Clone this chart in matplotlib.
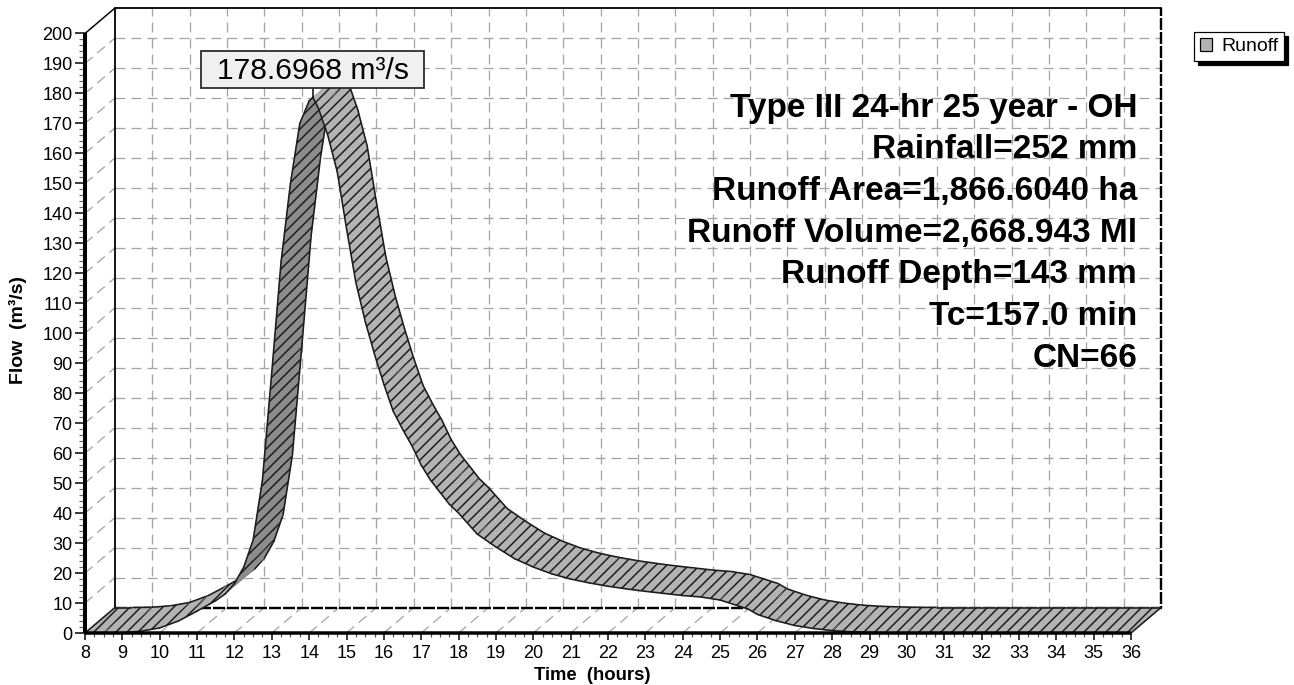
import numpy as np
import matplotlib
matplotlib.use("Agg")
import matplotlib.pyplot as plt
from matplotlib.patches import Polygon, Rectangle, Patch
from matplotlib.lines import Line2D
from matplotlib.ticker import FixedLocator
from matplotlib.transforms import IdentityTransform

# ---------------- data ----------------
time_hr = [8.0, 8.5, 9.0, 9.5, 10.0, 10.5, 11.0, 11.5, 11.75, 12.0, 12.25, 12.5,
           12.75, 13.0, 13.25, 13.5, 13.75, 14.0, 14.1, 14.25, 14.5, 14.75, 15.0,
           15.25, 15.5, 15.75, 16.0, 16.25, 16.5, 16.75, 17.0, 17.25, 17.5, 17.75,
           18.0, 18.5, 19.0, 19.5, 20.0, 20.5, 21.0, 21.5, 22.0, 22.5, 23.0, 23.5,
           24.0, 24.5, 25.0, 25.5, 25.75, 26.0, 26.5, 27.0, 27.5, 28.0, 28.5, 29.0,
           29.5, 30.0, 36.0]
flow_cms = [0.0, 0.0, 0.1, 0.6, 1.7, 4.0, 7.3, 10.8, 13.0, 16.5, 22.0, 31.0,
            51.0, 87.0, 124.0, 150.0, 170.0, 177.5, 178.6968, 175.0, 166.0, 154.0, 135.0,
            117.0, 104.0, 93.0, 83.0, 74.0, 68.0, 62.5, 56.0, 51.0, 47.0, 43.0,
            40.0, 33.0, 28.7, 24.8, 22.0, 19.7, 18.0, 16.7, 15.6, 14.7, 13.9, 13.2,
            12.5, 12.0, 11.0, 9.0, 8.0, 6.2, 4.1, 2.5, 1.5, 0.8, 0.4, 0.2,
            0.05, 0.0, 0.0]
x_ticks = list(range(8, 37))
y_ticks = list(range(0, 201, 10))
info_lines = ["Type III 24-hr 25 year - OH", "Rainfall=252 mm",
              "Runoff Area=1,866.6040 ha", "Runoff Volume=2,668.943 Ml",
              "Runoff Depth=143 mm", "Tc=157.0 min", "CN=66"]
title_text = "Hydrograph"
series_name = "Runoff"
x_label = "Time  (hours)"
y_label = "Flow  (m³/s)"

# ---------------- style ----------------
W, H, DPI = 1294, 685, 132
def pt(px):
    return px * 72.0 / DPI

plt.rcParams["font.family"] = ["Liberation Sans", "DejaVu Sans"]
plt.rcParams["hatch.linewidth"] = pt(1.5)
plt.rcParams["lines.scale_dashes"] = False

LIGHT = "#b3b3b3"
DARK = "#8c8c8c"
EDGE = "#1c1c1c"
GRID = "#a6a6a6"
DX, DY = 0.803, 8.5          # depth offset of the 3-D back wall (hours, flow units)
X0, X1 = x_ticks[0], x_ticks[-1]
Y0, Y1 = y_ticks[0], y_ticks[-1]

fig = plt.figure(figsize=(W / DPI, H / DPI), dpi=DPI)
ax = fig.add_axes([85 / W, (H - 633) / H, (1161 - 85) / W, (633 - 8) / H])
ax.set_xlim(X0, X1 + DX)
ax.set_ylim(Y0, Y1 + DY)
ax.set_facecolor("none")
for s in ax.spines.values():
    s.set_visible(False)

# ---------------- grid (back wall, left wall, floor) ----------------
gkw = dict(color=GRID, lw=pt(1.3), dashes=(pt(10), pt(6)), zorder=1)
for v in y_ticks[1:-1]:
    ax.plot([X0 + DX, X1 + DX], [v + DY, v + DY], **gkw)
    ax.plot([X0, X0 + DX], [v, v + DY], **gkw)
for t in x_ticks[1:-1]:
    ax.plot([t + DX, t + DX], [Y0 + DY, Y1 + DY], **gkw)
    ax.plot([t, t + DX], [Y0, Y0 + DY], **gkw)

# back wall borders
ax.plot([X0 + DX, X0 + DX, X1 + DX], [Y0 + DY, Y1 + DY, Y1 + DY], color="k",
        lw=pt(1.8), zorder=1.5, clip_on=False)
ax.plot([X0 + DX, X1 + DX, X1 + DX], [Y0 + DY, Y0 + DY, Y1 + DY], color="k",
        lw=pt(2.4), dashes=(pt(12), pt(2)), zorder=1.5, clip_on=False)
ax.plot([X0, X0 + DX], [Y1, Y1 + DY], color="k", lw=pt(1.5), zorder=1.5, clip_on=False)

# ---------------- 3-D ribbon ----------------
fig.canvas.draw()
tD = ax.transData
d0 = tD.transform((X0, Y0))
d1 = tD.transform((X0 + DX, Y0 + DY))
dpx, dpy = d1[0] - d0[0], d1[1] - d0[1]

z = 2.0
for i in range(len(time_hr) - 1):
    t0, v0 = time_hr[i], flow_cms[i]
    t1, v1 = time_hr[i + 1], flow_cms[i + 1]
    a = tD.transform((t0, v0))
    b = tD.transform((t1, v1))
    sx, sy = b[0] - a[0], b[1] - a[1]
    top_visible = (dpy * sx - dpx * sy) > 0
    col = LIGHT if top_visible else DARK
    quad = [(t0, v0), (t1, v1), (t1 + DX, v1 + DY), (t0 + DX, v0 + DY)]
    ax.add_patch(Polygon(quad, closed=True, facecolor=col, edgecolor=col,
                         lw=pt(0.6), zorder=z))
    ax.add_patch(Polygon(quad, closed=True, facecolor="none", edgecolor=EDGE,
                         lw=0, hatch="////", zorder=z + 0.001))
    ax.plot([t0, t1], [v0, v1], color=EDGE, lw=pt(1.6), zorder=z + 0.002,
            solid_capstyle="round")
    ax.plot([t0 + DX, t1 + DX], [v0 + DY, v1 + DY], color=EDGE, lw=pt(1.6),
            zorder=z + 0.002, solid_capstyle="round")
    z += 0.01
# end caps
for k in (0, -1):
    ax.plot([time_hr[k], time_hr[k] + DX], [flow_cms[k], flow_cms[k] + DY],
            color=EDGE, lw=pt(1.6), zorder=z, clip_on=False)

# ---------------- front axes ----------------
ax.plot([X0, X0], [Y0, Y1], color="k", lw=pt(4), zorder=50, clip_on=False,
        solid_capstyle="butt")
ax.plot([X0, X1], [Y0, Y0], color="k", lw=pt(3.5), zorder=50, clip_on=False,
        solid_capstyle="butt")

ax.xaxis.set_major_locator(FixedLocator(x_ticks))
ax.xaxis.set_minor_locator(FixedLocator(np.arange(X0, X1 + 0.001, 0.25)))
ax.set_xticklabels([str(t) for t in x_ticks])
ax.yaxis.set_major_locator(FixedLocator(y_ticks))
ax.yaxis.set_minor_locator(FixedLocator(np.arange(Y0, Y1 + 0.001, 2)))
ax.set_yticklabels([str(v) for v in y_ticks])
ax.tick_params(axis="x", which="major", length=pt(7), width=pt(1.5), pad=pt(5),
               labelsize=pt(18), colors="k")
ax.tick_params(axis="x", which="minor", length=pt(4), width=pt(1.2), color="#555555")
ax.tick_params(axis="y", which="major", length=pt(10), width=pt(1.5), pad=pt(2.5),
               labelsize=pt(18), colors="k")
ax.tick_params(axis="y", which="minor", length=pt(6), width=pt(1.2), color="#666666")

# ---------------- texts ----------------
fig.text(576 / W, 1 + 5 / H, title_text, ha="center", va="baseline",
         fontsize=pt(24), fontweight="bold")
fig.text(18 / W, 1 - 330 / H, y_label, rotation=90, ha="center", va="center",
         fontsize=pt(19.5), fontweight="bold")
fig.text(592 / W, 1 - 676 / H, x_label, ha="center", va="center",
         fontsize=pt(18.5), fontweight="bold")

for j, line in enumerate(info_lines):
    fig.text(1137 / W, 1 - (116.7 + 41.7 * j) / H, line, ha="right", va="baseline",
             fontsize=pt(33.4), fontweight="bold", zorder=70)

# peak label
ipk = int(np.argmax(flow_cms))
px, py = tD.transform((time_hr[ipk], flow_cms[ipk]))
bw, bh, gap = 223, 37, 9
fig.add_artist(Line2D([px, px], [py, py + gap], transform=IdentityTransform(),
                      color="k", lw=pt(1.5), zorder=80))
fig.add_artist(Rectangle((px - bw / 2, py + gap), bw, bh, transform=IdentityTransform(),
                         facecolor="#f0f0f0", edgecolor="#2a2a2a", lw=pt(1.8), zorder=80))
fig.add_artist(matplotlib.text.Text(px, py + gap + 9.7, f"{flow_cms[ipk]:.4f} m³/s",
                                    transform=IdentityTransform(), ha="center",
                                    va="baseline", fontsize=pt(30), zorder=81))

# legend
leg = fig.legend(handles=[Patch(facecolor=LIGHT, edgecolor="k", lw=pt(1.2),
                                label=series_name)],
                 loc="upper left", bbox_to_anchor=(1194 / W, 1 - 32 / H),
                 fontsize=pt(19.5), frameon=True, fancybox=False, edgecolor="k",
                 framealpha=1, shadow={"color": "k", "alpha": 1},
                 handlelength=0.6, handleheight=0.65, handletextpad=0.5,
                 borderpad=0.3, borderaxespad=0)
leg.get_frame().set_linewidth(pt(1.2))

fig.savefig("out.png", dpi=DPI)
